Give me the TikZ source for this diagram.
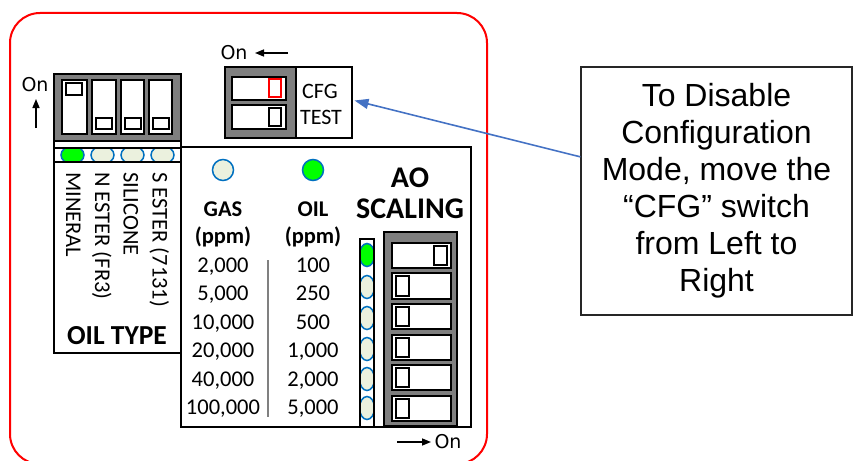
\documentclass[tikz,border=0pt]{standalone}
\usepackage{fontspec}
\setmainfont{Carlito}
\newfontfamily\dejavu{DejaVu Sans}
\newfontfamily\arialf{Liberation Sans}
\usetikzlibrary{arrows.meta,calc}
\definecolor{dipgray}{HTML}{7F7F7F}
\definecolor{ledoffc}{HTML}{EBF1DE}
\definecolor{ledonc}{HTML}{00FF00}
\definecolor{ledblue}{HTML}{0070C0}
\definecolor{callblue}{HTML}{4472C4}
\begin{document}
\begin{tikzpicture}[x=1pt,y=-1pt,
  box/.style={draw=black,line width=2pt},
  dipbox/.style={draw=black,line width=2pt,fill=dipgray},
  slotbox/.style={draw=black,line width=2pt,fill=white},
  knobbox/.style={draw=black,line width=1.8pt,fill=white},
  ledonst/.style={draw=ledblue,line width=1.5pt,fill=ledonc},
  ledoffst/.style={draw=ledblue,line width=1.5pt,fill=ledoffc},
  lbl/.style={inner sep=0pt,font=\fontsize{22.5}{24}\selectfont},
  blbl/.style={inner sep=0pt,font=\fontsize{22.5}{24}\selectfont\bfseries},
  onlbl/.style={inner sep=0pt,font=\dejavu\fontsize{19}{20}\selectfont},
  onarrow/.style={line width=1.5pt,-{Triangle[length=9pt,width=7pt]}},
]
\useasboundingbox (0,0) rectangle (853,460);
% red outline
\draw[red,line width=2pt,rounded corners=30pt] (10,13) rectangle (487,464);

% ---------- OIL TYPE ----------
\draw[box] (54,74) rectangle (181,353);
\draw[dipbox] (54,74) rectangle (181,141);
\draw[slotbox] (62,80) rectangle (87,134);
\draw[slotbox] (92,80) rectangle (116,134);
\draw[slotbox] (121,80) rectangle (144,134);
\draw[slotbox] (149,80) rectangle (172,134);
\draw[knobbox] (66,83) rectangle (82,95);
\draw[knobbox] (96,118) rectangle (112,129);
\draw[knobbox] (125,118) rectangle (141,129);
\draw[knobbox] (153,118) rectangle (169,129);
\begin{scope}
\clip (54,148) rectangle (181,162);
\draw[ledonst] (72.5,155) ellipse (11.5 and 9);
\draw[ledoffst] (102.5,155) ellipse (11.5 and 9);
\draw[ledoffst] (132.5,155) ellipse (11.5 and 9);
\draw[ledoffst] (162.5,155) ellipse (11.5 and 9);
\end{scope}
\draw[line width=2pt] (54,148) -- (181,148) (54,162) -- (181,162);
\node[onlbl] (onL) at (35,85) {On};
\coordinate (onLa) at (36,128);
\coordinate (onLb) at (36,99);
\draw[onarrow] (onLa) -- (onLb);
\node[lbl,rotate=-90,anchor=base west] (mineral) at (66,172) {MINERAL};
\node[lbl,rotate=-90,anchor=base west] (nester) at (95,172) {N ESTER (FR3)};
\node[lbl,rotate=-90,anchor=base west] (silicone) at (123.5,172) {SILICONE};
\node[lbl,rotate=-90,anchor=base west] (sester) at (152.5,172) {S ESTER (7131)};
\node[inner sep=0pt,font=\fontsize{27.5}{30}\selectfont\bfseries,anchor=base] (oiltype) at (117,344) {OIL TYPE};

% ---------- CFG / TEST ----------
\fill[dipgray] (225,67) rectangle (296,138);
\node[draw=black,line width=2pt,minimum width=127pt,minimum height=71pt,inner sep=0pt] (cfgbox) at (288.5,102.5) {};
\draw[line width=2pt] (296,67) -- (296,138);
\draw[slotbox] (232,77) rectangle (286,100);
\draw[slotbox] (232,105) rectangle (286,129);
\draw[knobbox,draw=red] (269,79) rectangle (281,97);
\draw[knobbox] (269,108) rectangle (281,126);
\node[inner sep=0pt,font=\fontsize{22}{23}\selectfont,anchor=base] (cfg) at (320,98) {CFG};
\node[inner sep=0pt,font=\fontsize{22}{23}\selectfont,anchor=base] (test) at (321,124) {TEST};
\node[onlbl] (onT) at (234,53) {On};
\coordinate (onTa) at (288,53);
\coordinate (onTb) at (255,53);
\draw[onarrow] (onTa) -- (onTb);

% ---------- GAS / OIL table ----------
\draw[box] (181,147) rectangle (471,427);
\draw[ledoffst] (223,170) circle (10.5);
\draw[ledonst] (313,170) circle (10.5);
\node[blbl,anchor=base] (gas) at (223,216) {GAS};
\node[blbl,anchor=base] (gasppm) at (223,243) {(ppm)};
\node[blbl,anchor=base] (oil) at (313,216) {OIL};
\node[blbl,anchor=base] (oilppm) at (313,243) {(ppm)};
\draw[gray,line width=1.5pt] (268,260) -- (268,417);
\node[lbl,anchor=base] (g1) at (223,272) {2,000};
\node[lbl,anchor=base] (g2) at (223,300.5) {5,000};
\node[lbl,anchor=base] (g3) at (223,329) {10,000};
\node[lbl,anchor=base] (g4) at (223,357.5) {20,000};
\node[lbl,anchor=base] (g5) at (223,386) {40,000};
\node[lbl,anchor=base] (g6) at (223,414.5) {100,000};
\node[lbl,anchor=base] (o1) at (313,272) {100};
\node[lbl,anchor=base] (o2) at (313,300.5) {250};
\node[lbl,anchor=base] (o3) at (313,329) {500};
\node[lbl,anchor=base] (o4) at (313,357.5) {1,000};
\node[lbl,anchor=base] (o5) at (313,386) {2,000};
\node[lbl,anchor=base] (o6) at (313,414.5) {5,000};

% ---------- AO SCALING ----------
\node[inner sep=0pt,font=\fontsize{30}{32}\selectfont\bfseries,anchor=base] (ao) at (410,187) {AO};
\node[inner sep=0pt,font=\fontsize{30}{32}\selectfont\bfseries,anchor=base] (scaling) at (410,218) {SCALING};
\begin{scope}
\clip (360,239) rectangle (374,427);
\draw[ledonst] (367,255) ellipse (7.5 and 11.5);
\foreach \yy in {287,318,349,379,408}{\draw[ledoffst] (367,\yy) ellipse (7.5 and 11.5);}
\end{scope}
\draw[line width=2pt] (360,427) -- (360,239) -- (374,239) -- (374,427);
\draw[dipbox] (384,232) rectangle (457,426);
\foreach \ya/\yb in {243/268,273/299,304/329,335/360,365/390,396/421}{\draw[slotbox] (392,\ya) rectangle (451,\yb);}
\draw[knobbox] (434,246) rectangle (447,265);
\foreach \ya/\yb in {276/296,307/326,338/357,368/387,399/418}{\draw[knobbox] (396,\ya) rectangle (409,\yb);}
\coordinate (onBa) at (397,442);
\coordinate (onBb) at (431,442);
\draw[onarrow] (onBa) -- (onBb);
\node[onlbl] (onB) at (448,442) {On};

% ---------- callout ----------
\node[draw=black!85,line width=1.3pt,minimum width=271pt,minimum height=248pt,inner sep=0pt,align=center,
  font=\arialf\fontsize{32}{37}\selectfont] (callout) at (716.5,191)
  {To Disable\\Configuration\\Mode, move the\\“CFG” switch\\from Left to\\Right};
\draw[callblue,line width=1.6pt,-{Triangle[length=14pt,width=10pt]}]
  ($(callout.north west)!0.363!(callout.south west)$) -- ([xshift=1.5pt,yshift=2pt]cfgbox.east);
\end{tikzpicture}
\end{document}
